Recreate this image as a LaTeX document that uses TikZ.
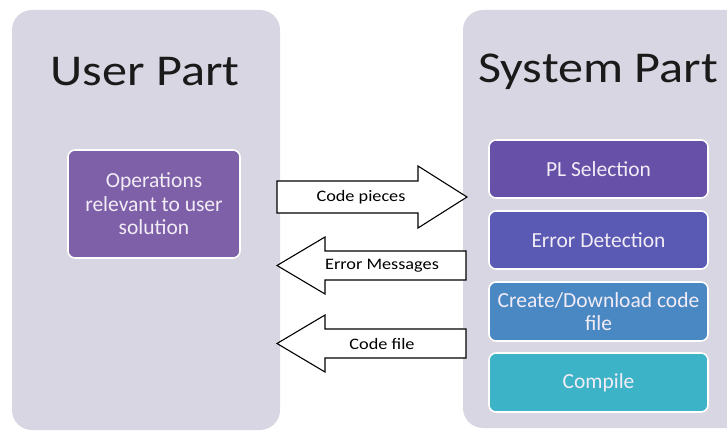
\documentclass[tikz,border=0pt]{standalone}
\usepackage{fontspec}
\setmainfont{Carlito}
\newfontfamily\widefont[FakeStretch=1.14]{Carlito}
\usetikzlibrary{positioning}
\definecolor{panelbg}{HTML}{D8D6E2}
\definecolor{opsfill}{HTML}{7E60A8}
\definecolor{plfill}{HTML}{6650A8}
\definecolor{errfill}{HTML}{5A5AB4}
\definecolor{createfill}{HTML}{4A88C4}
\definecolor{compilefill}{HTML}{3DB3C8}
\definecolor{boxtext}{HTML}{F2ECF6}
\definecolor{titletext}{HTML}{1A1A1A}
\tikzset{
  panel/.style={fill=panelbg, draw=none, rounded corners=20pt},
  paneltitle/.style={text=titletext, font=\widefont\fontsize{44}{48}\selectfont, inner sep=0pt},
  stepbox/.style={draw=white, line width=1.6pt, rounded corners=7pt, text=boxtext,
    align=center, inner sep=0pt, font=\fontsize{21.5}{23.5}\selectfont},
  blockarrow/.style={draw=black, fill=white, line width=1.1pt, line join=miter},
  arrowlabel/.style={font=\widefont\fontsize{16}{18}\selectfont, inner sep=0pt}
}
\begin{document}
\begin{tikzpicture}[x=1pt,y=-1pt]
\useasboundingbox (0,0) rectangle (727,433);
\fill[white] (0,0) rectangle (727,433);

% the two panels
\fill[panel] (12,10) rectangle (280,430);
\fill[panel] (463,10) rectangle (750,428);
\node[paneltitle] (usertitle) at (145,72) {User Part};
\node[paneltitle] (systitle) at (598,72) {System Part};

% user side operation box
\node[stepbox, fill=opsfill, minimum width=172pt, minimum height=108pt]
  (ops) at (154,204) {Operations\\relevant to user\\solution};

% system side steps
\node[stepbox, fill=plfill, minimum width=219pt, minimum height=58pt]
  (pl) at (598.5,169) {PL Selection};
\node[stepbox, fill=errfill, minimum width=219pt, minimum height=58pt]
  (err) at (598.5,240) {Error Detection};
\node[stepbox, fill=createfill, minimum width=219pt, minimum height=59pt]
  (create) at (598.5,311.5) {Create/Download code\\file};
\node[stepbox, fill=compilefill, minimum width=219pt, minimum height=59pt]
  (compile) at (598.5,382.5) {Compile};

% block arrows between the panels
\draw[blockarrow] (277,181) -- (418,181) -- (418,166) -- (467,197)
  -- (418,228) -- (418,213) -- (277,213) -- cycle;
\node[arrowlabel] (lblcode) at (361,197) {Code pieces};

\draw[blockarrow] (466,251) -- (325,251) -- (325,237) -- (277,265.5)
  -- (325,294) -- (325,280) -- (466,280) -- cycle;
\node[arrowlabel] (lblerr) at (382,266) {Error Messages};

\draw[blockarrow] (466,329) -- (325,329) -- (325,315) -- (277,343.5)
  -- (325,372) -- (325,358) -- (466,358) -- cycle;
\node[arrowlabel] (lblfile) at (382,344) {Code file};
\end{tikzpicture}
\end{document}
